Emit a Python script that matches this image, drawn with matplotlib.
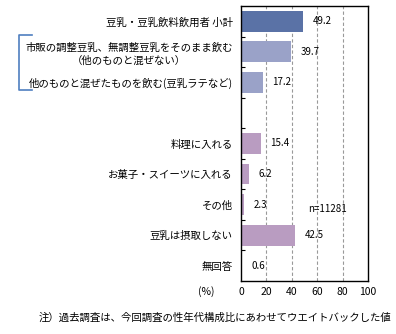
import matplotlib.pyplot as plt
from matplotlib.lines import Line2D

plt.rcParams['font.family'] = ['Noto Sans CJK JP', 'DejaVu Sans']

labels = ['豆乳・豆乳飲料飲用者 小計',
          '市販の調整豆乳、無調整豆乳をそのまま飲む\n（他のものと混ぜない）',
          '他のものと混ぜたものを飲む(豆乳ラテなど)',
          '',
          '料理に入れる',
          'お菓子・スイーツに入れる',
          'その他',
          '豆乳は摂取しない',
          '無回答']
values = [49.2, 39.7, 17.2, None, 15.4, 6.2, 2.3, 42.5, 0.6]
colors = ['#5a72a6', '#9aa2c8', '#9aa2c8', None,
          '#b99cc1', '#b99cc1', '#b99cc1', '#b99cc1', '#b99cc1']
xticks = [0, 20, 40, 60, 80, 100]

fig = plt.figure(figsize=(3.96, 3.34), dpi=100)
ax = fig.add_axes([241 / 396, 1 - 281 / 334, 127 / 396, 275 / 334])

for i, (v, c) in enumerate(zip(values, colors)):
    if v is None:
        continue
    ax.barh(i, v, height=0.68, color=c, zorder=2)
    ax.annotate(f'{v}', (v, i), xytext=(7, 0), textcoords='offset points',
                ha='left', va='center', fontsize=7)

ax.set_xlim(0, 100)
ax.set_ylim(len(labels) - 0.5, -0.5)
for x in xticks[1:-1]:
    ax.axvline(x, color='#999999', lw=0.8, ls=(0, (3, 2)), zorder=1)

ax.set_xticks(xticks)
ax.set_xticklabels([str(x) for x in xticks], fontsize=7.5)
ax.tick_params(axis='x', length=0, pad=4)

ax.set_yticks(range(len(labels)))
ax.set_yticklabels(labels, fontsize=7.5)
ax.tick_params(axis='y', length=0, pad=6)
for t in ax.get_yticklabels():
    t.set_multialignment('center')
    t.set_linespacing(1.3)
ax.set_yticks([i + 0.5 for i in range(len(labels) - 1)], minor=True)
ax.tick_params(axis='y', which='minor', direction='in', length=3, width=0.8)

for s in ax.spines.values():
    s.set_linewidth(1.0)
    s.set_color('black')

ax.text(68.5, 6.15, 'n=11281', ha='center', va='center', fontsize=7)

# (%) unit label and footnote
fig.text(206 / 396, 1 - 292 / 334, '(%)', ha='center', va='center', fontsize=7.5)
fig.text(215 / 396, 1 - 318 / 334,
         '注）過去調査は、今回調査の性年代構成比にあわせてウエイトバックした値',
         ha='center', va='center', fontsize=7.5)

# bracket grouping the two breakdown rows
bx = [32 / 396, 19 / 396, 19 / 396, 32 / 396]
by = [1 - 35 / 334, 1 - 35 / 334, 1 - 90 / 334, 1 - 90 / 334]
fig.add_artist(Line2D(bx, by, color='#4f7fc0', lw=1.2))

fig.savefig('out.png', dpi=100)
